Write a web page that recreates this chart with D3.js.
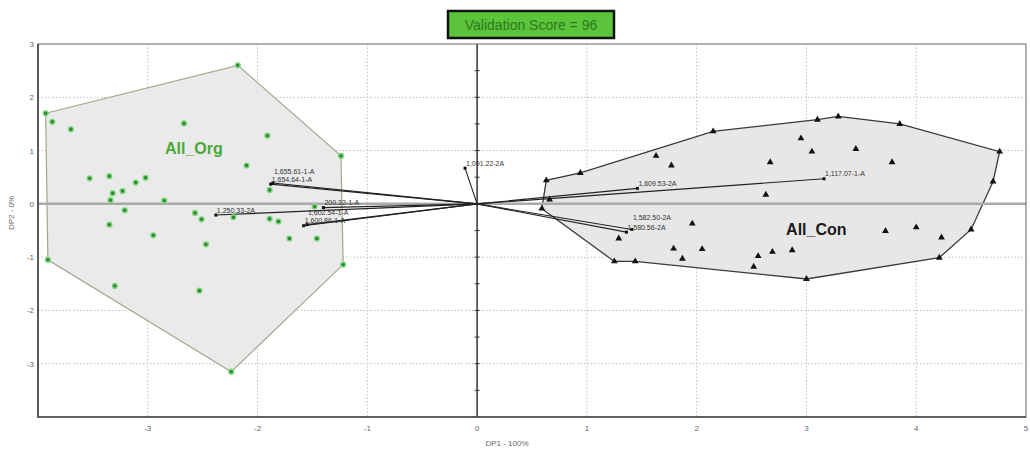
<!DOCTYPE html>
<html><head><meta charset="utf-8">
<script src="https://cdn.jsdelivr.net/npm/d3@7"></script>
<style>body{margin:0;background:#fff}svg{display:block}</style>
</head><body>
<svg id="c" width="1030" height="453"></svg>
<script>
const xTicks = [-3,-2,-1,0,1,2,3,4,5];
const yTicks = [3,2,1,0,-1,-2,-3];
const gridX = [-3,-2,-1,1,2,3,4];
const gridY = [2,1,-1,-2,-3];
const titleText = "Validation Score = 96";
const xLabel = "DP1 - 100%";
const yLabel = "DP2 - 0%";

const orgHull = [[-3.93,1.70],[-2.18,2.60],[-1.24,0.90],[-1.22,-1.14],[-2.24,-3.15],[-3.91,-1.05]];
const orgPoints = [[-3.87,1.54],[-3.70,1.40],[-2.67,1.51],[-1.91,1.28],[-2.10,0.72],[-3.53,0.48],[-3.35,0.52],
  [-3.11,0.40],[-3.02,0.49],[-3.32,0.20],[-3.23,0.24],[-3.34,0.07],[-2.85,0.06],[-1.89,0.26],[-3.21,-0.12],
  [-2.57,-0.17],[-2.51,-0.29],[-1.89,-0.28],[-1.81,-0.33],[-1.48,-0.05],[-3.35,-0.39],[-2.95,-0.59],
  [-2.47,-0.76],[-1.71,-0.65],[-1.46,-0.65],[-2.22,-0.25],[-3.30,-1.54],[-2.53,-1.63]];
const conHull = [[0.59,-0.09],[0.63,0.44],[0.94,0.58],[2.15,1.36],[3.10,1.58],[3.29,1.64],[3.85,1.50],
  [4.76,0.98],[4.70,0.42],[4.50,-0.48],[4.21,-1.01],[3.00,-1.41],[1.44,-1.08],[1.25,-1.08]];
const conPoints = [[0.66,0.08],[1.63,0.90],[1.77,0.72],[2.67,0.78],[2.63,0.17],[1.96,-0.37],[1.29,-0.65],
  [1.79,-0.84],[2.05,-0.85],[1.87,-1.03],[2.56,-0.98],[2.69,-0.90],[2.52,-1.18],[2.95,1.23],[3.05,0.98],
  [3.45,1.03],[3.78,0.78],[3.72,-0.51],[4.00,-0.44],[4.23,-0.63],[2.87,-0.87]];
const groupNames = ["All_Org","All_Con"];
const groupLabelPos = [[-2.58,0.94],[3.09,-0.58]];

const loadingNames = ["1,654.64-1-A","1,655.61-1-A","1,250.33-2A","200.32-1-A","1,600.86-1-A","1,602.54-1-A",
  "1,091.22-2A","1,609.53-2A","1,117.07-1-A","1,580.56-2A","1,582.50-2A"];
const loadingX = [-1.88,-1.86,-2.38,-1.40,-1.58,-1.55,-0.11,1.46,3.16,1.36,1.41];
const loadingY = [0.37,0.39,-0.21,-0.07,-0.41,-0.39,0.67,0.29,0.47,-0.53,-0.48];

const svg = d3.select("#c");
const x = d3.scaleLinear().domain([-4,5]).range([38,1026]);
const y = d3.scaleLinear().domain([-4,3]).range([417,44]);
const ff = "Arial, 'Liberation Sans', sans-serif";

// grid
svg.append("g").selectAll("line").data(gridX).join("line")
  .attr("x1",d=>x(d)).attr("x2",d=>x(d)).attr("y1",y(3)).attr("y2",y(-4))
  .attr("stroke","#bdbdbd").attr("stroke-dasharray","1.5,2").attr("stroke-width",1);
svg.append("g").selectAll("line").data(gridY).join("line")
  .attr("y1",d=>y(d)).attr("y2",d=>y(d)).attr("x1",x(-4)).attr("x2",x(5))
  .attr("stroke","#bdbdbd").attr("stroke-dasharray","1.5,2").attr("stroke-width",1);

// hulls
const line = d3.line().x(d=>x(d[0])).y(d=>y(d[1]));
svg.append("path").attr("d",line(orgHull)+"Z").attr("fill","#e8e8e8").attr("fill-opacity",0.92)
  .attr("stroke","#9cab8e").attr("stroke-width",1.2);
svg.append("path").attr("d",line(conHull)+"Z").attr("fill","#e5e5e5").attr("fill-opacity",0.92)
  .attr("stroke","#3a3a3a").attr("stroke-width",1.3);

// zero lines
svg.append("line").attr("x1",x(-4)).attr("x2",x(5)).attr("y1",y(0)).attr("y2",y(0))
  .attr("stroke","#aaaaaa").attr("stroke-width",2.5);
svg.append("line").attr("x1",x(0)).attr("x2",x(0)).attr("y1",y(3)).attr("y2",y(-4))
  .attr("stroke","#333").attr("stroke-width",1.5);
const minorY = d3.range(-3.5,3,0.5);
svg.append("g").selectAll("line").data(minorY).join("line")
  .attr("x1",x(0)-2.5).attr("x2",x(0)+2.5).attr("y1",d=>y(d)).attr("y2",d=>y(d))
  .attr("stroke","#333").attr("stroke-width",1);

// frame
svg.append("rect").attr("x",x(-4)).attr("y",y(3)).attr("width",x(5)-x(-4)).attr("height",y(-4)-y(3))
  .attr("fill","none").attr("stroke","#666").attr("stroke-width",1);
svg.append("path").attr("d",`M${x(-4)},${y(3)}V${y(-4)}H${x(5)}`).attr("fill","none")
  .attr("stroke","#444").attr("stroke-width",1.6);

// ticks labels
svg.append("g").selectAll("text").data(xTicks).join("text")
  .attr("x",d=>x(d)).attr("y",431).attr("text-anchor","middle")
  .attr("font-family",ff).attr("font-size",8).attr("fill","#666").text(d=>d);
svg.append("g").selectAll("text").data(yTicks).join("text")
  .attr("x",34).attr("y",d=>y(d)+3).attr("text-anchor","end")
  .attr("font-family",ff).attr("font-size",8).attr("fill","#666").text(d=>d);
svg.append("text").attr("x",507).attr("y",446).attr("text-anchor","middle")
  .attr("font-family",ff).attr("font-size",8).attr("fill","#666").text(xLabel);
svg.append("text").attr("transform","translate(14,213) rotate(-90)").attr("text-anchor","middle")
  .attr("font-family",ff).attr("font-size",8).attr("fill","#666").text(yLabel);

// loadings
const L = loadingNames.map((n,i)=>({n,x:loadingX[i],y:loadingY[i]}));
svg.append("g").selectAll("line").data(L).join("line")
  .attr("x1",x(0)).attr("y1",y(0)).attr("x2",d=>x(d.x)).attr("y2",d=>y(d.y))
  .attr("stroke","#222").attr("stroke-width",1.1);

// points
svg.append("g").selectAll("circle").data(orgHull.concat(orgPoints)).join("circle")
  .attr("cx",d=>x(d[0])).attr("cy",d=>y(d[1])).attr("r",2.4)
  .attr("fill","#2a8a2a").attr("stroke","#7ed37e").attr("stroke-width",1.4);
const tri = d3.symbol().type(d3.symbolTriangle).size(20);
svg.append("g").selectAll("path").data(conHull.concat(conPoints)).join("path")
  .attr("d",tri).attr("transform",d=>`translate(${x(d[0])},${y(d[1])})`).attr("fill","#111");

svg.append("g").selectAll("rect").data(L).join("rect")
  .attr("x",d=>x(d.x)-1.5).attr("y",d=>y(d.y)-1.5).attr("width",3).attr("height",3).attr("fill","#111");
const labs = svg.append("g").selectAll("text").data(L).join("text")
  .attr("x",d=>x(d.x)+1).attr("y",d=>y(d.y)-2.5)
  .attr("font-family",ff).attr("font-size",7).attr("fill","#333").text(d=>d.n);
// simple collision avoidance for labels
const placed = [];
labs.each(function(){
  const el = d3.select(this);
  let b = this.getBBox();
  let shift = 0, tries = 0;
  const hit = bb => placed.some(p => bb.x < p.x+p.width && bb.x+bb.width > p.x && bb.y+shift < p.y+p.height && bb.y+shift+bb.height > p.y);
  while (hit(b) && tries < 6) { shift -= 7; tries++; }
  if (shift) el.attr("y", +el.attr("y") + shift);
  placed.push({x:b.x, y:b.y+shift, width:b.width, height:b.height});
});

// group labels
svg.append("g").selectAll("text").data(groupNames).join("text")
  .attr("x",(d,i)=>x(groupLabelPos[i][0])).attr("y",(d,i)=>y(groupLabelPos[i][1]))
  .attr("text-anchor","middle").attr("font-family",ff).attr("font-weight","bold").attr("font-size",16)
  .attr("fill",(d,i)=>i===0?"#4aa83a":"#1a1a1a").text(d=>d);

// title box
svg.append("rect").attr("x",448).attr("y",11).attr("width",166).attr("height",27)
  .attr("fill","#5cc43a").attr("stroke","#111").attr("stroke-width",2.5);
svg.append("text").attr("x",531).attr("y",29.5).attr("text-anchor","middle")
  .attr("font-family",ff).attr("font-size",14).attr("fill","#2b7a1e").text(titleText);
</script>
</body></html>
